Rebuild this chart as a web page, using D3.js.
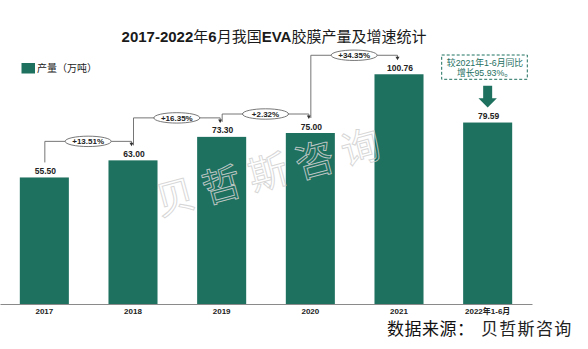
<!DOCTYPE html>
<html><head><meta charset="utf-8">
<script src="https://cdn.jsdelivr.net/npm/d3@7"></script>
<style>html,body{margin:0;padding:0;background:#fff;}svg{display:block;}</style>
</head><body>
<script>
const categories = ["2017","2018","2019","2020","2021","2022年1-6月"];
const production = [55.50, 63.00, 73.30, 75.00, 100.76, 79.59];
const growth = ["+13.51%","+16.35%","+2.32%","+34.35%"];
const legendLabel = "产量（万吨）";
const noteLines = ["较2021年1-6月同比","增长95.93%。"];

const W = 588, H = 349;
const green = "#1e705f";
const latin = "'Liberation Sans', Arial, 'Noto Sans CJK SC', sans-serif";
const cjk = "'Noto Sans CJK SC', sans-serif";

const svg = d3.select("body").append("svg").attr("width", W).attr("height", H);

const x = d3.scaleBand().domain(categories).range([0, 532]).paddingInner(0.447).paddingOuter(0.2235);
const y = d3.scaleLinear().domain([0, 120]).range([304, 30.4]);

// title
const title = svg.append("text").attr("x", 274).attr("y", 41.5).attr("text-anchor", "middle")
  .attr("font-size", 15).attr("fill", "#1a1a1a");
[["2017-2022", true],["年", false],["6", true],["月我国", false],["EVA", true],["胶膜产量及增速统计", false]]
  .forEach(([t, b]) => title.append("tspan").text(t).attr("font-weight", b ? "bold" : "normal")
    .attr("font-family", b ? latin : cjk));

// legend
svg.append("rect").attr("x", 21.5).attr("y", 63).attr("width", 13.5).attr("height", 10.5).attr("fill", green);
svg.append("text").attr("x", 37).attr("y", 72).attr("font-size", 10).attr("font-family", cjk)
  .attr("fill", "#222").text(legendLabel);

// bars
svg.append("g").selectAll("rect").data(production).join("rect")
  .attr("x", (d, i) => x(categories[i])).attr("width", x.bandwidth())
  .attr("y", d => y(d)).attr("height", d => y(0) - y(d)).attr("fill", green);

// value labels
svg.append("g").selectAll("text").data(production).join("text")
  .attr("x", (d, i) => x(categories[i]) + x.bandwidth() / 2 + 1)
  .attr("y", d => y(d) - 3.5).attr("text-anchor", "middle")
  .attr("font-size", 8.5).attr("font-weight", "bold").attr("font-family", latin)
  .attr("fill", "#222").text(d => d.toFixed(2));

// axis
const axis = svg.append("g").attr("transform", `translate(0,${y(0)})`)
  .call(d3.axisBottom(x).tickSize(0).tickSizeOuter(0).tickPadding(4));
axis.select(".domain").attr("stroke", "#8a8a8a").attr("stroke-width", 1);
axis.selectAll("text").attr("font-size", 8).attr("font-weight", "bold")
  .attr("font-family", latin).attr("fill", "#222");

// growth connectors
const cx = i => x(categories[i]) + x.bandwidth() / 2;
const conn = svg.append("g");
growth.forEach((g, i) => {
  const y0 = y(production[i]), y1 = y(production[i + 1]);
  const h = Math.min(y0, y1) - 19;
  const xs = cx(i) + 0.5, xe = cx(i + 1) - 1.5;
  const tip = y1 - 14;
  conn.append("path").attr("d", `M${xs},${y0 - 15}V${h}H${xe}V${tip - 3}`)
    .attr("fill", "none").attr("stroke", "#666").attr("stroke-width", 0.9);
  conn.append("path").attr("d", `M${xe - 2},${tip - 3.5}L${xe + 2},${tip - 3.5}L${xe},${tip}Z`).attr("fill", "#333");
  const mx = (xs + xe) / 2;
  conn.append("ellipse").attr("cx", mx).attr("cy", h).attr("rx", 23).attr("ry", 5.2)
    .attr("fill", "#fff").attr("stroke", "#555").attr("stroke-width", 0.8);
  conn.append("text").attr("x", mx).attr("y", h + 2.9).attr("text-anchor", "middle")
    .attr("font-size", 8).attr("font-weight", "bold").attr("font-family", latin)
    .attr("fill", "#222").text(g);
});

// annotation box + arrow
const lastC = cx(5);
svg.append("rect").attr("x", 441.7).attr("y", 55).attr("width", 85.6).attr("height", 24.3)
  .attr("fill", "none").attr("stroke", green).attr("stroke-width", 1).attr("stroke-dasharray", "3,2");
noteLines.forEach((t, k) => svg.append("text").attr("x", 485).attr("y", 65.6 + k * 10.6)
  .attr("text-anchor", "middle").attr("font-size", 8.8).attr("font-family", latin)
  .attr("fill", green).text(t));
svg.append("path").attr("d",
  `M${lastC - 4.5},85.7H${lastC + 4.5}V98.3H${lastC + 9.2}L${lastC},107.5L${lastC - 9.2},98.3H${lastC - 4.5}Z`)
  .attr("fill", green);

// watermark
svg.append("text").attr("transform", "translate(276,185) rotate(-15)")
  .attr("text-anchor", "middle").attr("font-size", 39).attr("font-family", cjk)
  .attr("letter-spacing", 9).attr("fill", "none").attr("stroke", "#d2d2d2")
  .attr("stroke-width", 0.9).attr("opacity", 0.9).text("贝哲斯咨询");

// source
svg.append("text").attr("x", 387).attr("y", 335).attr("font-size", 17).attr("font-family", cjk)
  .attr("letter-spacing", 0.5).attr("fill", "#111").text("数据来源：");
svg.append("text").attr("x", 481).attr("y", 335).attr("font-size", 17).attr("font-family", cjk)
  .attr("letter-spacing", 1.3).attr("fill", "#222").text("贝哲斯咨询");
</script>
</body></html>
